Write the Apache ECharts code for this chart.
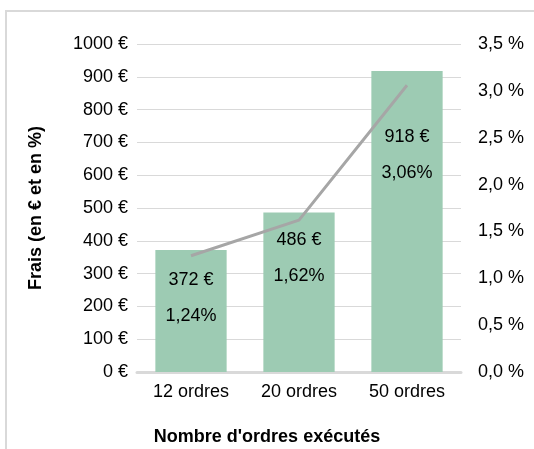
<!DOCTYPE html>
<html><head><meta charset="utf-8">
<script src="https://cdn.jsdelivr.net/npm/echarts@6/dist/echarts.min.js"></script>
<style>html,body{margin:0;padding:0;background:#fff}#c{width:534px;height:449px}</style>
</head><body><div id="c"></div>
<script>
const categories = ['12 ordres', '20 ordres', '50 ordres'];
const fees = [372, 486, 918];
const pct = [1.24, 1.62, 3.06];
const leftTicks = [0, 100, 200, 300, 400, 500, 600, 700, 800, 900, 1000];
const rightTicks = [0, 0.5, 1, 1.5, 2, 2.5, 3, 3.5];

const labelDy = [12, 9, 48];
const FONT = '"Liberation Sans", Arial, sans-serif';
const fr = (v, d) => v.toFixed(d).replace('.', ',');

const chart = echarts.init(document.getElementById('c'), null, {renderer: 'canvas'});
chart.setOption({
  animation: false,
  textStyle: {fontFamily: FONT},
  grid: {left: 137, right: 73, top: 44, bottom: 77},
  graphic: [
    {type: 'rect', shape: {x: 6, y: 11, width: 600, height: 500}, style: {fill: 'none', stroke: '#d9d9d9', lineWidth: 2}, silent: true},
    {type: 'text', x: 36, y: 208, rotation: Math.PI / 2,
      style: {text: 'Frais (en € et en %)', font: 'bold 18px ' + FONT, fill: '#000', align: 'center', verticalAlign: 'middle'}},
    {type: 'text', x: 267, y: 437,
      style: {text: "Nombre d'ordres exécutés", font: 'bold 18px ' + FONT, fill: '#000', align: 'center', verticalAlign: 'middle'}}
  ],
  xAxis: {
    type: 'category', data: categories,
    axisLine: {lineStyle: {color: '#d9d9d9', width: 3}},
    axisTick: {show: false},
    axisLabel: {color: '#000', fontSize: 18, fontFamily: FONT, margin: 11}
  },
  yAxis: [
    {type: 'value', min: leftTicks[0], max: leftTicks[leftTicks.length - 1], interval: 100,
      axisLine: {show: false}, axisTick: {show: false},
      splitLine: {lineStyle: {color: '#d9d9d9', width: 1}},
      axisLabel: {color: '#000', fontSize: 18, fontFamily: FONT, margin: 9, formatter: v => v + ' €'}},
    {type: 'value', min: rightTicks[0], max: rightTicks[rightTicks.length - 1], interval: 0.5,
      axisLine: {show: false}, axisTick: {show: false}, splitLine: {show: false},
      axisLabel: {color: '#000', fontSize: 18, fontFamily: FONT, margin: 17, formatter: v => fr(v, 1) + ' %'}}
  ],
  series: [
    {type: 'bar', yAxisIndex: 0, barWidth: '66%',
      itemStyle: {color: '#9dcbb3'},
      data: fees.map((v, i) => ({
        value: v,
        label: {show: true, position: 'insideTop', distance: 0, offset: [0, labelDy[i]],
          formatter: () => '{a|' + v + ' €}\n{a|' + fr(pct[i], 2) + '%}',
          rich: {a: {fontSize: 18, fontFamily: FONT, color: '#000', lineHeight: 36}}}
      }))
    },
    {type: 'line', yAxisIndex: 1, data: pct, symbol: 'none',
      lineStyle: {color: '#a6a6a6', width: 3}, z: 3}
  ]
});
</script></body></html>
